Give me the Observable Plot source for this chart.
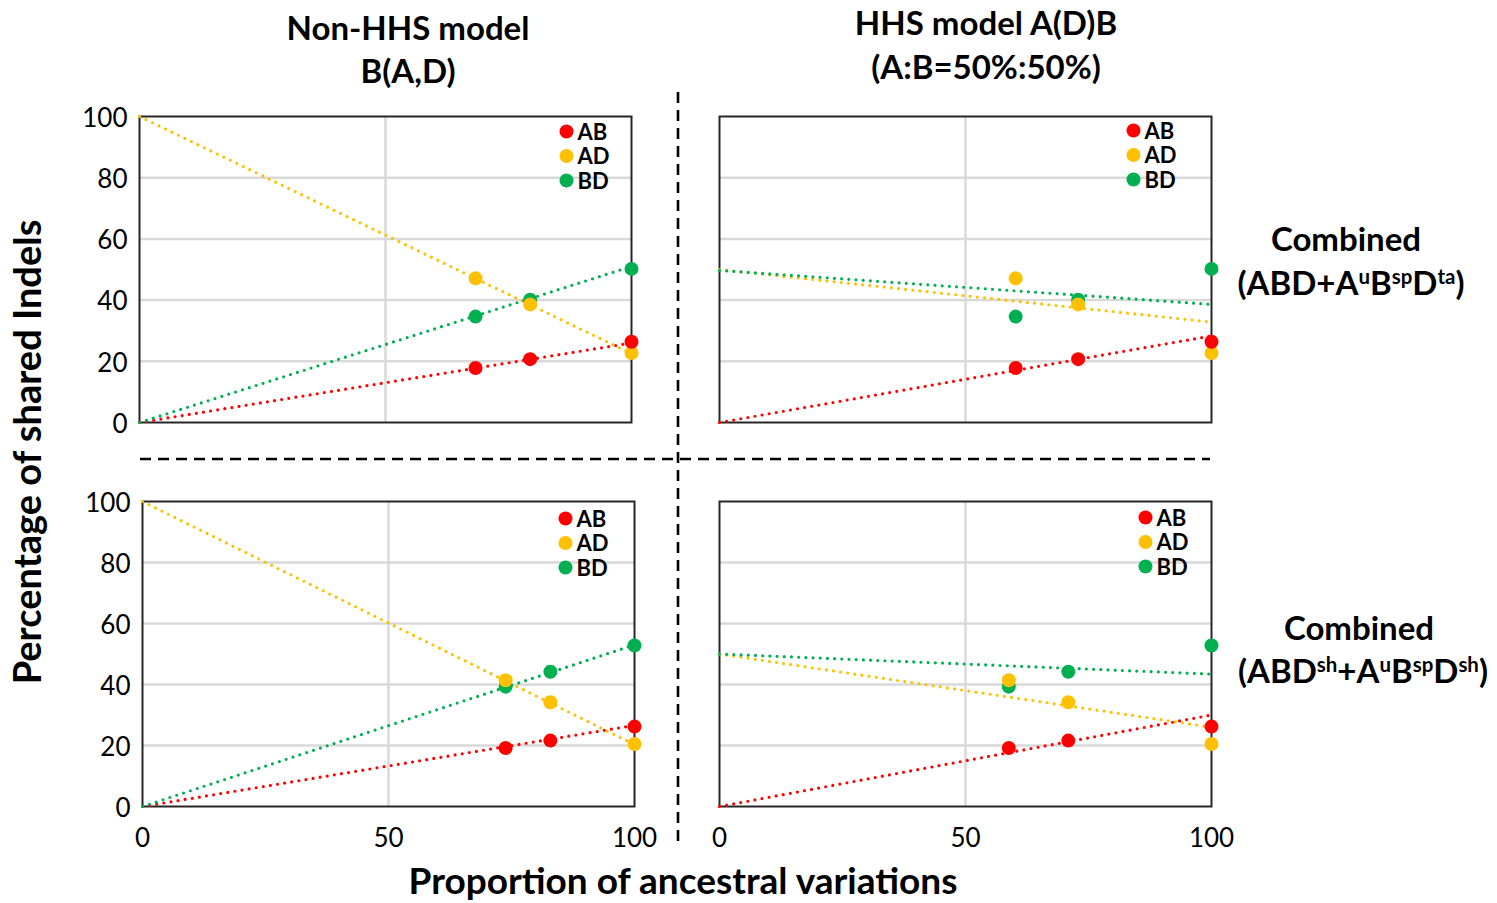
<!DOCTYPE html>
<html>
<head>
<meta charset="utf-8">
<script src="https://cdn.jsdelivr.net/npm/d3@7"></script>
<script src="https://cdn.jsdelivr.net/npm/@observablehq/plot@0.6"></script>
<style>
  html, body { margin: 0; padding: 0; background: #fff; }
  #wrap { position: relative; width: 1497px; height: 903px; overflow: hidden; background: #fff; font-family: Lato, "Open Sans", sans-serif; color: #000; }
  .abs { position: absolute; }
  .title { font-weight: bold; font-size: 33px; text-align: center; line-height: 44px; white-space: nowrap; }
  .rowlab { font-weight: bold; font-size: 33px; text-align: center; line-height: 44px; white-space: nowrap; }
  .rowlab sup { font-size: 0.62em; vertical-align: 0; position: relative; top: -0.55em; line-height: 0; }
  .axlab { font-weight: bold; font-size: 38px; white-space: nowrap; text-align: center; }
</style>
</head>
<body>
<div id="wrap"></div>
<script>
// ---------- data ----------
const series = ["AB", "AD", "BD"];
const seriesColors = ["#ff0000", "#ffc000", "#00b050"];
const xTicks = [0, 50, 100];
const yTicks = [0, 20, 40, 60, 80, 100];

// x positions (proportion of ancestral variations) per panel
const xNonHHSta = [68.3, 79.4, 100];
const xHHSta    = [60.2, 72.9, 100];
const xNonHHSsh = [73.8, 82.9, 100];
const xHHSsh    = [58.8, 70.9, 100];

// percentage of shared indels, dataset ABD + AuBspDta
const taAB = [17.8, 20.7, 26.4];
const taAD = [47.1, 38.6, 22.7];
const taBD = [34.6, 40.1, 50.2];
// dataset ABDsh + AuBspDsh
const shAB = [19.2, 21.6, 26.2];
const shAD = [41.4, 34.2, 20.5];
const shBD = [39.3, 44.2, 52.8];

// trend lines: value at x = 0 and at x = 100, order AB, AD, BD
const trendNonHHSta = {start: [0, 100, 0], end: [26.0, 22.5, 51.0]};
const trendHHSta    = {start: [0, 50, 49.7], end: [28.3, 32.8, 38.6]};
const trendNonHHSsh = {start: [0, 100, 0], end: [26.6, 20.3, 53.0]};
const trendHHSsh    = {start: [0, 50, 50], end: [30.0, 26.0, 43.4]};

// ---------- layout ----------
const panels = [
  {xs: xNonHHSta, ys: [taAB, taAD, taBD], trend: trendNonHHSta, left: 139, top: 116, w: 492, h: 306, showY: true, showX: false, legDx: -65, legDy: 15},
  {xs: xHHSta,    ys: [taAB, taAD, taBD], trend: trendHHSta,    left: 719, top: 116, w: 492, h: 306, showY: false, showX: false, legDx: -78, legDy: 14},
  {xs: xNonHHSsh, ys: [shAB, shAD, shBD], trend: trendNonHHSsh, left: 142, top: 501, w: 492, h: 305, showY: true, showX: true, legDx: -69, legDy: 17},
  {xs: xHHSsh,    ys: [shAB, shAD, shBD], trend: trendHHSsh,    left: 719, top: 501, w: 492, h: 305, showY: false, showX: true, legDx: -66, legDy: 16}
];

const wrap = document.getElementById("wrap");

function makePanel(p) {
  const mL = p.showY ? 80 : 12, mR = 24, mT = 12, mB = p.showX ? 60 : 12;
  const points = [];
  series.forEach((s, si) => p.xs.forEach((x, i) => points.push({s, x, y: p.ys[si][i]})));
  const trend = [];
  series.forEach((s, si) => {
    trend.push({s, x: 0, y: p.trend.start[si]});
    trend.push({s, x: 100, y: p.trend.end[si]});
  });
  const drawOrder = ["BD", "AD", "AB"];
  const marks = [
    Plot.gridY([20, 40, 60, 80], {stroke: "#d9d9d9", strokeOpacity: 1, strokeWidth: 2.5}),
    Plot.gridX([50], {stroke: "#d9d9d9", strokeOpacity: 1, strokeWidth: 2.5}),
    Plot.frame({stroke: "#262626", strokeWidth: 2}),
    Plot.line(trend, {x: "x", y: "y", z: "s", stroke: "s", strokeWidth: 3.2, strokeDasharray: "0 7.2", strokeLinecap: "round"}),
    ...drawOrder.map(s => Plot.dot(points.filter(d => d.s === s), {x: "x", y: "y", fill: "s", r: 7}))
  ];
  if (p.showY) marks.push(Plot.axisY(yTicks, {tickSize: 0, tickPadding: 12, fontSize: 26, fill: "#000", dy: 2}));
  if (p.showX) marks.push(Plot.axisX(xTicks, {tickSize: 0, tickPadding: 22, fontSize: 26, fill: "#000"}));
  series.forEach((s, i) => {
    marks.push(Plot.dot([s], {frameAnchor: "top-right", dx: p.legDx, dy: p.legDy + i * 24.5, r: 7, fill: seriesColors[i]}));
    marks.push(Plot.text([s], {text: d => d, frameAnchor: "top-right", lineAnchor: "middle", dx: p.legDx + 11, dy: p.legDy + i * 24.5 + 1, textAnchor: "start", fontSize: 22, fontWeight: "bold", fill: "#000"}));
  });
  const chart = Plot.plot({
    width: mL + p.w + mR,
    height: mT + p.h + mB,
    marginLeft: mL, marginRight: mR, marginTop: mT, marginBottom: mB,
    x: {domain: [0, 100], axis: p.showX ? undefined : null, label: null},
    y: {domain: [0, 100], axis: p.showY ? undefined : null, label: null},
    color: {domain: series, range: seriesColors},
    style: {fontFamily: "Lato, 'Open Sans', sans-serif", background: "transparent", overflow: "visible"},
    marks
  });
  chart.style.position = "absolute";
  chart.style.left = (p.left - mL) + "px";
  chart.style.top = (p.top - mT) + "px";
  wrap.appendChild(chart);
}
panels.forEach(makePanel);

// ---------- text ----------
function addText(html, cls, cx, cy, w) {
  const d = document.createElement("div");
  d.className = "abs " + cls;
  d.innerHTML = html;
  d.style.width = w + "px";
  d.style.left = (cx - w / 2) + "px";
  d.style.top = (cy - 22) + "px";
  wrap.appendChild(d);
}
addText("Non-HHS model", "title", 408, 27, 500);
addText("B(A,D)", "title", 408, 70, 500);
addText("HHS model A(D)B", "title", 986, 22, 500);
addText("(A:B=50%:50%)", "title", 986, 66, 500);
addText("Combined", "rowlab", 1346, 238, 300);
addText("(ABD+A<sup>u</sup>B<sup>sp</sup>D<sup>ta</sup>)", "rowlab", 1351, 282, 300);
addText("Combined", "rowlab", 1359, 627, 300);
addText("(ABD<sup>sh</sup>+A<sup>u</sup>B<sup>sp</sup>D<sup>sh</sup>)", "rowlab", 1363, 670, 300);

const xl = document.createElement("div");
xl.className = "abs axlab";
xl.textContent = "Proportion of ancestral variations";
xl.style.fontSize = "37px";
xl.style.width = "800px"; xl.style.left = (683 - 400) + "px"; xl.style.top = "858px"; xl.style.lineHeight = "44px";
wrap.appendChild(xl);

const yl = document.createElement("div");
yl.className = "abs axlab";
yl.textContent = "Percentage of shared Indels";
yl.style.width = "700px"; yl.style.lineHeight = "48px";
yl.style.left = (26 - 350) + "px"; yl.style.top = (452 - 24) + "px";
yl.style.transform = "rotate(-90deg)";
wrap.appendChild(yl);

// ---------- dashed separators ----------
const ns = "http://www.w3.org/2000/svg";
const sep = document.createElementNS(ns, "svg");
sep.setAttribute("width", 1497); sep.setAttribute("height", 903);
sep.style.position = "absolute"; sep.style.left = "0"; sep.style.top = "0"; sep.style.pointerEvents = "none";
[[678, 92, 678, 846], [140, 459, 1210, 459]].forEach(([x1, y1, x2, y2]) => {
  const l = document.createElementNS(ns, "line");
  l.setAttribute("x1", x1); l.setAttribute("y1", y1); l.setAttribute("x2", x2); l.setAttribute("y2", y2);
  l.setAttribute("stroke", "#000"); l.setAttribute("stroke-width", 2.6); l.setAttribute("stroke-dasharray", "11 7");
  sep.appendChild(l);
});
wrap.appendChild(sep);
</script>
</body>
</html>
